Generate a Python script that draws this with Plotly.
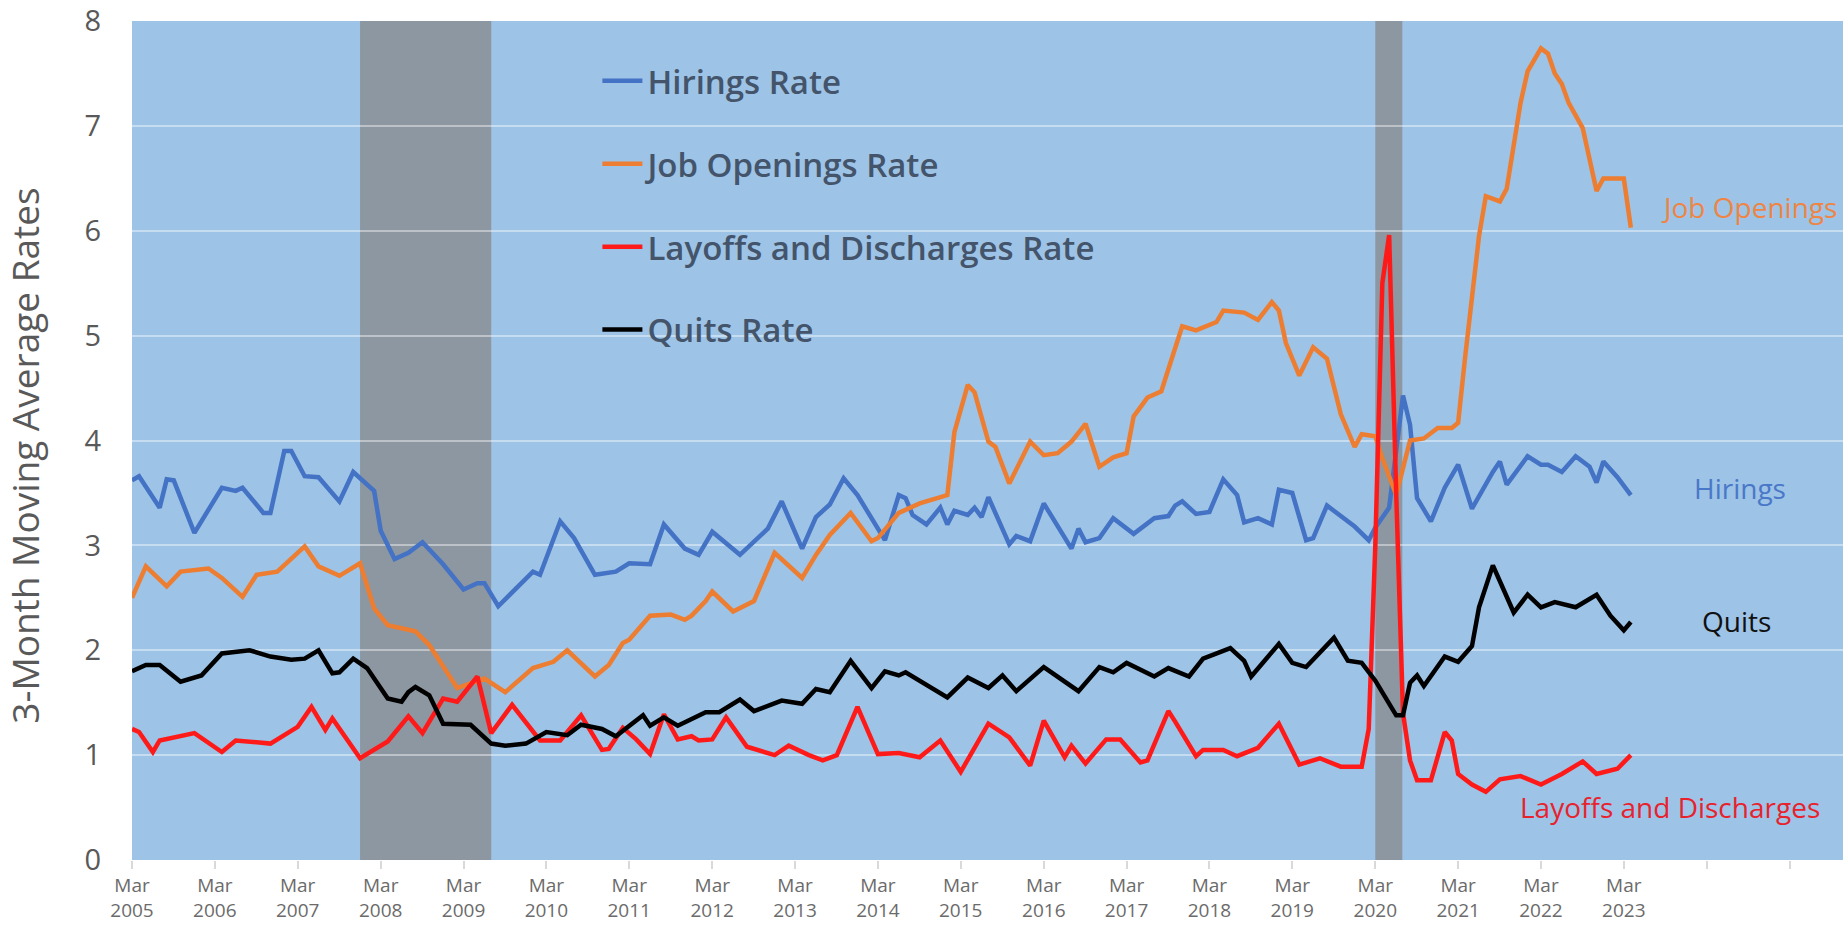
import pandas as pd
import plotly.graph_objects as go

# months counted from Mar 2005 (0 = Mar 2005)
BASE = pd.Timestamp("2005-03-01")

hire_months = [0, 1, 4, 5, 6, 9, 13, 15, 16, 19, 20, 22, 23, 25, 27, 30, 32, 35, 36, 38,
               40, 42, 45, 48, 50, 51, 53, 58, 59, 62, 64, 67, 70, 72, 75, 77, 80, 82, 84, 88,
               92, 94, 97, 99, 101, 103, 105, 107, 109, 111, 112, 113, 115, 117, 118, 119, 121, 122, 123, 124,
               127, 128, 130, 132, 136, 137, 138, 140, 142, 145, 148, 150, 151, 152, 154, 156, 158, 160, 161, 163,
               165, 166, 168, 170, 171, 173, 175, 177, 179, 180, 182, 184, 185, 186, 188, 190, 192, 194, 197, 198,
               199, 202, 204, 205, 207, 209, 211, 212, 213, 215, 217]
hire_vals = [3.62, 3.66, 3.36, 3.63, 3.62, 3.12, 3.55, 3.52, 3.55, 3.31, 3.31, 3.90, 3.90, 3.66, 3.65, 3.42, 3.70, 3.52, 3.14, 2.87,
             2.93, 3.03, 2.82, 2.58, 2.64, 2.64, 2.42, 2.75, 2.72, 3.23, 3.07, 2.72, 2.75, 2.83, 2.82, 3.20, 2.97, 2.91, 3.13, 2.91,
             3.16, 3.42, 2.97, 3.27, 3.39, 3.64, 3.48, 3.26, 3.05, 3.48, 3.45, 3.29, 3.20, 3.36, 3.20, 3.33, 3.29, 3.36, 3.27, 3.46,
             3.01, 3.09, 3.04, 3.40, 2.97, 3.16, 3.03, 3.07, 3.26, 3.11, 3.26, 3.28, 3.38, 3.42, 3.30, 3.32, 3.63, 3.48, 3.22, 3.26,
             3.20, 3.53, 3.50, 3.05, 3.07, 3.38, 3.28, 3.18, 3.05, 3.17, 3.36, 4.43, 4.15, 3.45, 3.23, 3.55, 3.77, 3.35, 3.70, 3.80,
             3.58, 3.85, 3.77, 3.77, 3.70, 3.85, 3.75, 3.60, 3.80, 3.65, 3.48]

open_months = [0, 2, 5, 7, 11, 13, 16, 18, 21, 25, 27, 30, 33, 35, 37, 41, 43, 47, 51, 54,
               58, 61, 63, 67, 69, 71, 72, 75, 78, 80, 81, 83, 84, 87, 90, 93, 97, 99, 101, 104,
               107, 108, 111, 114, 118, 119, 121, 122, 124, 125, 127, 130, 132, 134, 136, 138, 140, 142, 144, 145,
               147, 149, 150, 152, 154, 157, 158, 161, 163, 165, 166, 167, 169, 171, 173, 175, 177, 178, 180, 181,
               183, 185, 187, 189, 191, 192, 193, 195, 196, 197, 198, 199, 200, 201, 202, 204, 205, 206, 207, 208,
               210, 211, 212, 213, 216, 217]
open_vals = [2.50, 2.80, 2.61, 2.75, 2.78, 2.69, 2.51, 2.72, 2.75, 2.99, 2.80, 2.71, 2.83, 2.40, 2.24, 2.18, 2.05, 1.64, 1.73, 1.60,
             1.83, 1.89, 2.00, 1.75, 1.86, 2.07, 2.10, 2.33, 2.34, 2.29, 2.33, 2.47, 2.56, 2.37, 2.47, 2.93, 2.69, 2.91, 3.10, 3.31,
             3.04, 3.07, 3.31, 3.40, 3.48, 4.08, 4.53, 4.46, 3.99, 3.94, 3.59, 3.99, 3.86, 3.88, 3.99, 4.16, 3.75, 3.84, 3.88, 4.23,
             4.41, 4.47, 4.68, 5.09, 5.05, 5.13, 5.24, 5.22, 5.15, 5.32, 5.24, 4.93, 4.62, 4.89, 4.78, 4.25, 3.94, 4.06, 4.04, 3.83,
             3.48, 4.00, 4.02, 4.12, 4.12, 4.17, 4.80, 5.95, 6.33, 6.30, 6.28, 6.40, 6.85, 7.22, 7.52, 7.74, 7.69, 7.50, 7.40, 7.22,
             6.98, 6.68, 6.38, 6.50, 6.50, 6.03]

lay_months = [0, 1, 3, 4, 9, 13, 15, 20, 24, 26, 28, 29, 33, 37, 40, 42, 45, 47, 50, 52,
              55, 59, 62, 65, 68, 69, 71, 73, 75, 77, 79, 81, 82, 84, 86, 89, 93, 95, 98, 100,
              102, 105, 108, 111, 114, 117, 120, 124, 127, 130, 132, 135, 136, 138, 141, 143, 146, 147, 150, 151,
              154, 155, 158, 160, 163, 166, 169, 172, 175, 178, 179, 180, 181, 182, 183, 184, 185, 186, 188, 190,
              191, 192, 194, 196, 198, 201, 204, 207, 210, 212, 215, 217]
lay_vals = [1.25, 1.22, 1.03, 1.14, 1.21, 1.03, 1.14, 1.11, 1.27, 1.46, 1.24, 1.35, 0.97, 1.13, 1.37, 1.21, 1.54, 1.51, 1.75, 1.21,
            1.48, 1.14, 1.14, 1.38, 1.05, 1.06, 1.26, 1.15, 1.01, 1.39, 1.15, 1.18, 1.14, 1.15, 1.36, 1.08, 1.00, 1.09, 1.00, 0.95,
            1.00, 1.46, 1.01, 1.02, 0.98, 1.14, 0.84, 1.30, 1.17, 0.90, 1.33, 0.98, 1.09, 0.92, 1.15, 1.15, 0.93, 0.95, 1.42, 1.32,
            0.99, 1.05, 1.05, 0.99, 1.07, 1.30, 0.91, 0.97, 0.89, 0.89, 1.25, 3.00, 5.50, 5.96, 3.50, 1.40, 0.95, 0.76, 0.76, 1.22,
            1.14, 0.82, 0.72, 0.65, 0.77, 0.80, 0.72, 0.82, 0.94, 0.82, 0.87, 1.00]

quit_months = [0, 2, 4, 7, 10, 13, 17, 20, 23, 25, 27, 29, 30, 32, 34, 37, 39, 40, 41, 43,
               45, 49, 52, 54, 57, 60, 63, 65, 68, 70, 74, 75, 77, 79, 83, 85, 88, 90, 94, 97,
               99, 101, 104, 107, 109, 111, 112, 118, 121, 124, 126, 128, 132, 137, 140, 142, 144, 148, 150, 153,
               155, 159, 161, 162, 166, 168, 170, 174, 176, 178, 180, 183, 184, 185, 186, 187, 190, 192, 194, 195,
               197, 200, 202, 204, 206, 209, 212, 214, 216, 217]
quit_vals = [1.80, 1.86, 1.86, 1.70, 1.76, 1.97, 2.00, 1.94, 1.91, 1.92, 2.00, 1.78, 1.79, 1.92, 1.83, 1.54, 1.51, 1.60, 1.65, 1.57,
             1.30, 1.29, 1.11, 1.09, 1.11, 1.22, 1.19, 1.29, 1.25, 1.18, 1.38, 1.28, 1.36, 1.28, 1.41, 1.41, 1.53, 1.42, 1.52, 1.49,
             1.63, 1.60, 1.90, 1.64, 1.80, 1.76, 1.79, 1.55, 1.74, 1.64, 1.76, 1.61, 1.84, 1.61, 1.84, 1.79, 1.88, 1.75, 1.83, 1.75,
             1.92, 2.02, 1.90, 1.75, 2.06, 1.88, 1.84, 2.12, 1.90, 1.88, 1.71, 1.38, 1.38, 1.69, 1.76, 1.66, 1.94, 1.89, 2.04, 2.41,
             2.81, 2.36, 2.53, 2.41, 2.46, 2.41, 2.53, 2.33, 2.19, 2.27]

recessions = [("2007-12-01", "2009-07-01"), ("2020-03-01", "2020-06-28")]
tick_years = list(range(2005, 2026))
last_labelled_year = 2023
y_ticks = list(range(0, 9))

series = [
    ("Hirings Rate", hire_months, hire_vals, "#4472C4"),
    ("Job Openings Rate", open_months, open_vals, "#ED7D31"),
    ("Layoffs and Discharges Rate", lay_months, lay_vals, "#FF1A1A"),
    ("Quits Rate", quit_months, quit_vals, "#000000"),
]

FONT = "Open Sans"


def to_dates(months):
    return [BASE + pd.DateOffset(months=m) for m in months]


fig = go.Figure()
for name, months, vals, color in series:
    assert len(months) == len(vals), name
    fig.add_trace(go.Scatter(x=to_dates(months), y=vals, mode="lines", name=name,
                             legendgroup=name, line=dict(color=color, width=4.5)))

for x0, x1 in recessions:
    fig.add_shape(type="rect", xref="x", yref="paper", x0=x0, x1=x1, y0=0, y1=1,
                  fillcolor="#8C97A1", line_width=0, layer="below")

# end-of-line labels
end_labels = [
    ("Job Openings", 0.945, 6.23, "#EE8544"),
    ("Hirings", 0.940, 3.55, "#4A78C8"),
    ("Quits", 0.9375, 2.28, "#111111"),
    ("Layoffs and Discharges", 0.899, 0.51, "#E8222D"),
]
for text, xp, yv, color in end_labels:
    fig.add_annotation(text=text, x=xp, y=yv, xref="paper", yref="y", showarrow=False,
                       xanchor="center", yanchor="middle", font=dict(family=FONT, size=28, color=color))

fig.add_annotation(text="3-Month Moving Average Rates", x=-0.0625, y=0.482, xref="paper", yref="paper",
                   textangle=-90, showarrow=False, xanchor="center", yanchor="middle",
                   font=dict(family=FONT, size=37, color="#595959"))

tickvals = [pd.Timestamp(f"{y}-03-01") for y in tick_years]
ticktext = [f"Mar<br>{y}" if y <= last_labelled_year else "" for y in tick_years]

fig.update_layout(
    width=1845, height=937,
    margin=dict(l=132, r=2, t=21, b=77),
    paper_bgcolor="white", plot_bgcolor="#9DC3E6",
    font=dict(family=FONT, color="#595959"),
    showlegend=True,
    legend=dict(x=0.272, y=0.962, xanchor="left", yanchor="top", bgcolor="rgba(0,0,0,0)",
                font=dict(family=FONT, size=33, color="#44546A", weight=600),
                tracegroupgap=37, itemwidth=40),
    xaxis=dict(type="date", range=["2005-03-01", "2025-10-22"], tickvals=tickvals, ticktext=ticktext,
               showgrid=False, ticks="outside", ticklen=8, tickwidth=2, tickcolor="#d9d9d9", automargin=False,
               tickfont=dict(family=FONT, size=19, color="#6b6b6b"), zeroline=False, showline=False),
    yaxis=dict(range=[0, 8.001], tickvals=y_ticks, showgrid=True, gridcolor="rgba(255,255,255,0.42)", gridwidth=2,
               zeroline=False, showline=False, ticks="", ticklabelstandoff=30, ticklabeloverflow="allow",
               automargin=False, tickfont=dict(family=FONT, size=29, color="#595959")),
)

fig.write_html("out.html", config={"displayModeBar": False},
               post_script="document.body.style.margin='0';document.body.style.overflow='hidden';")
